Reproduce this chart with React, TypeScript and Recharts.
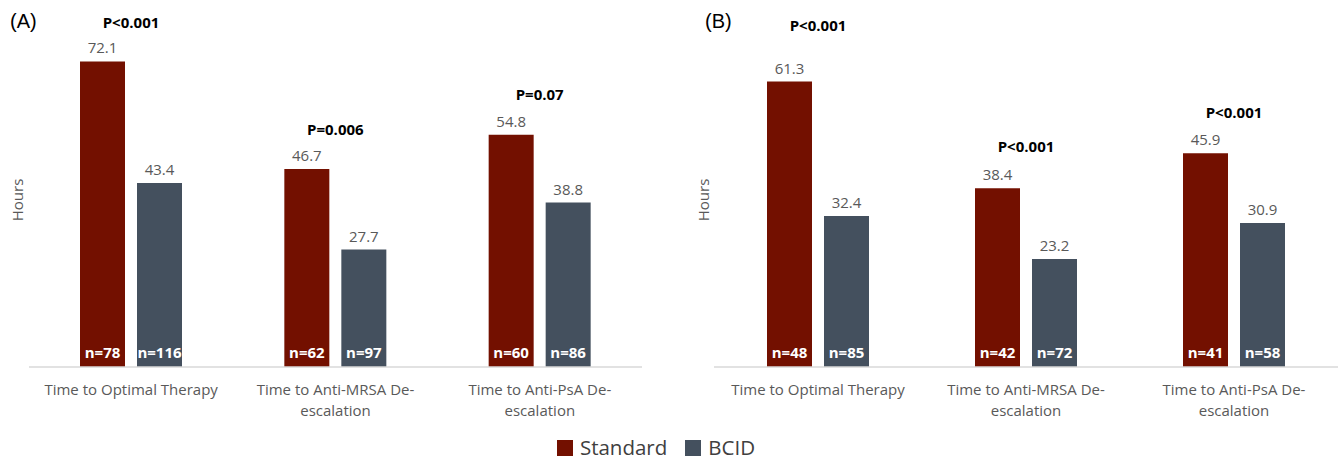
import { BarChart, Bar, XAxis, YAxis, LabelList } from 'recharts';

const CATEGORIES = ['Time to Optimal Therapy', 'Time to Anti-MRSA De-\nescalation', 'Time to Anti-PsA De-\nescalation'];

// Panel A
const STANDARD_A = [72.1, 46.7, 54.8];
const BCID_A = [43.4, 27.7, 38.8];
const N_STANDARD_A = [78, 62, 60];
const N_BCID_A = [116, 97, 86];
const P_A = ['P<0.001', 'P=0.006', 'P=0.07'];

// Panel B
const STANDARD_B = [61.3, 38.4, 45.9];
const BCID_B = [32.4, 23.2, 30.9];
const N_STANDARD_B = [48, 42, 41];
const N_BCID_B = [85, 72, 58];
const P_B = ['P<0.001', 'P<0.001', 'P<0.001'];

const STD_COLOR = '#731000';
const BCID_COLOR = '#44505E';
const FONT = '"Open Sans", sans-serif';

function buildRows(std: number[], bcid: number[], nStd: number[], nBcid: number[], p: string[]) {
  return CATEGORIES.map((name, i) => ({
    name, standard: std[i], bcid: bcid[i], nStd: `n=${nStd[i]}`, nBcid: `n=${nBcid[i]}`, p: p[i],
  }));
}

function CategoryTick({ x, y, payload }: any) {
  const lines = String(payload.value).split('\n');
  return (
    <text x={x} y={y} textAnchor="middle" fill="#595959" fontSize={15} fontFamily={FONT}>
      {lines.map((l, i) => (
        <tspan key={i} x={x} dy={i === 0 ? 28 : 21}>{l}</tspan>
      ))}
    </text>
  );
}

function nLabel(props: any) {
  const { x, y, width, height, value } = props;
  return (
    <text x={x + width / 2} y={y + height - 15} textAnchor="middle" dominantBaseline="central"
      fill="white" fontSize={15} fontWeight={700} fontFamily={FONT}>
      {value}
    </text>
  );
}

interface PanelProps {
  tag: string;
  rows: any[];
  yMax: number;
  left: number;
  width: number;
  margin: { top: number; right: number; left: number; bottom: number };
  pLift: number[];
  hoursX: number;
}

function Panel({ tag, rows, yMax, left, width, margin, pLift, hoursX }: PanelProps) {
  const pLabel = (props: any) => {
    const { x, y, width: w, value, index } = props;
    return (
      <text x={x + w + 6} y={y - pLift[index]} textAnchor="middle" dominantBaseline="central"
        fill="#000" fontSize={15} fontWeight={700} fontFamily={FONT}>
        {value}
      </text>
    );
  };
  return (
    <div style={{ position: 'absolute', left, top: 0 }}>
      <BarChart width={width} height={420} data={rows} margin={margin} barGap={12}>
        <XAxis dataKey="name" axisLine={{ stroke: '#d9d9d9', strokeWidth: 1.5 }} tickLine={false}
          tickSize={0} tickMargin={0} height={50} interval={0} tick={<CategoryTick />} />
        <YAxis hide domain={[0, yMax]} />
        <Bar dataKey="standard" fill={STD_COLOR} barSize={45} isAnimationActive={false}>
          <LabelList dataKey="standard" position="top" offset={8} fill="#595959" fontSize={15} fontFamily={FONT} />
          <LabelList dataKey="nStd" content={nLabel} />
          <LabelList dataKey="p" content={pLabel} />
        </Bar>
        <Bar dataKey="bcid" fill={BCID_COLOR} barSize={45} isAnimationActive={false}>
          <LabelList dataKey="bcid" position="top" offset={8} fill="#595959" fontSize={15} fontFamily={FONT} />
          <LabelList dataKey="nBcid" content={nLabel} />
        </Bar>
      </BarChart>
      <div style={{ position: 'absolute', left: 10, top: 10, fontFamily: '"Liberation Sans", Arial, sans-serif', fontSize: 20, color: '#000' }}>
        {tag}
      </div>
      <div style={{
        position: 'absolute', left: hoursX, top: 200, transform: 'translate(-50%, -50%) rotate(-90deg)',
        fontFamily: FONT, fontSize: 15, color: '#595959', whiteSpace: 'nowrap',
      }}>
        Hours
      </div>
    </div>
  );
}

export default function App() {
  const rowsA = buildRows(STANDARD_A, BCID_A, N_STANDARD_A, N_BCID_A, P_A);
  const rowsB = buildRows(STANDARD_B, BCID_B, N_STANDARD_B, N_BCID_B, P_B);
  return (
    <div style={{ position: 'fixed', top: 0, left: 0, width: 1343, height: 462, background: 'white', overflow: 'hidden' }}>
      <Panel tag="(A)" rows={rowsA} yMax={80} left={0} width={660}
        margin={{ top: 28, right: 18, left: 29, bottom: 3 }} pLift={[39, 40, 41]} hoursX={17} />
      <Panel tag="(B)" rows={rowsB} yMax={70} left={695} width={648}
        margin={{ top: 41, right: 5, left: 19, bottom: 3 }} pLift={[57, 42, 41]} hoursX={8} />
      <div style={{
        position: 'absolute', top: 434, left: 0, width: 1312, display: 'flex', justifyContent: 'center',
        gap: 18, fontFamily: FONT, fontSize: 20.5, lineHeight: '27px', color: '#404040',
      }}>
        <span style={{ display: 'flex', alignItems: 'center', gap: 7 }}>
          <span style={{ width: 16, height: 16, background: STD_COLOR, display: 'inline-block' }} />Standard
        </span>
        <span style={{ display: 'flex', alignItems: 'center', gap: 7 }}>
          <span style={{ width: 16, height: 16, background: BCID_COLOR, display: 'inline-block' }} />BCID
        </span>
      </div>
    </div>
  );
}
